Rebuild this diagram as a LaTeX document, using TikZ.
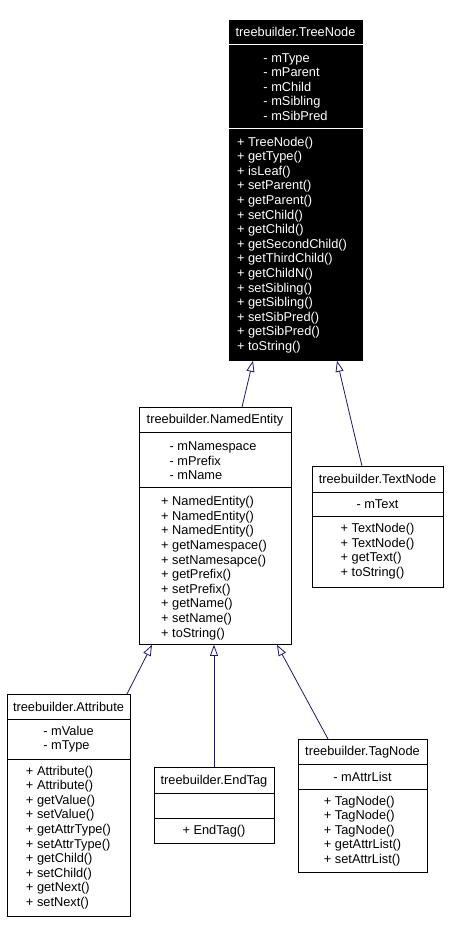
\documentclass[tikz,border=0pt]{standalone}
\usepackage{fontspec}
\setmainfont{Liberation Sans}
\usetikzlibrary{arrows.meta,calc}
\definecolor{edgeblue}{RGB}{25,25,112}
\tikzset{
  classbox/.style={draw=black, line width=0.8pt, rectangle, inner sep=0pt, anchor=north west},
  seprule/.style={line width=0.8pt},
  umltext/.style={font=\fontsize{12.8}{14.6}\selectfont, inner sep=0pt, align=left},
  inh/.style={draw=edgeblue, line width=0.8pt, -{Triangle[open, length=11pt, width=8pt]}},
}
\begin{document}
\begin{tikzpicture}[x=1pt,y=-1pt]
\useasboundingbox (0,0) rectangle (450,934);
\fill[white] (0,0) rectangle (450,934);

% TreeNode
\node[classbox, fill=black, minimum width=133pt, minimum height=340pt] (tn) at (229,20) {};
\draw[seprule, white] ($(tn.north west)+(0,24)$) -- ($(tn.north east)+(0,24)$);
\draw[seprule, white] ($(tn.north west)+(0,108)$) -- ($(tn.north east)+(0,108)$);
\node[umltext, text=white] (tnT) at (295.5,32) {treebuilder.TreeNode};
\node[umltext, text=white] (tnA) at (295.5,87) {- mType\\- mParent\\- mChild\\- mSibling\\- mSibPred};
\node[umltext, text=white] (tnM) at (292,245) {+ TreeNode()\\+ getType()\\+ isLeaf()\\+ setParent()\\+ getParent()\\+ setChild()\\+ getChild()\\+ getSecondChild()\\+ getThirdChild()\\+ getChildN()\\+ setSibling()\\+ getSibling()\\+ setSibPred()\\+ getSibPred()\\+ toString()};

% NamedEntity
\node[classbox, minimum width=152pt, minimum height=237pt] (ne) at (139,407) {};
\draw[seprule] ($(ne.north west)+(0,25)$) -- ($(ne.north east)+(0,25)$);
\draw[seprule] ($(ne.north west)+(0,80)$) -- ($(ne.north east)+(0,80)$);
\node[umltext] (neT) at (215,420) {treebuilder.NamedEntity};
\node[umltext] (neA) at (213,461) {- mNamespace\\- mPrefix\\- mName};
\node[umltext] (neM) at (214,568) {+ NamedEntity()\\+ NamedEntity()\\+ NamedEntity()\\+ getNamespace()\\+ setNamesapce()\\+ getPrefix()\\+ setPrefix()\\+ getName()\\+ setName()\\+ toString()};

% TextNode
\node[classbox, minimum width=131pt, minimum height=121pt] (txn) at (312,466) {};
\draw[seprule] ($(txn.north west)+(0,26)$) -- ($(txn.north east)+(0,26)$);
\draw[seprule] ($(txn.north west)+(0,50)$) -- ($(txn.north east)+(0,50)$);
\node[umltext] (txnT) at (377.5,479) {treebuilder.TextNode};
\node[umltext] (txnA) at (377.5,504) {- mText};
\node[umltext] (txnM) at (377.5,551) {+ TextNode()\\+ TextNode()\\+ getText()\\+ toString()};

% Attribute
\node[classbox, minimum width=123pt, minimum height=222pt] (at) at (7,694) {};
\draw[seprule] ($(at.north west)+(0,25)$) -- ($(at.north east)+(0,25)$);
\draw[seprule] ($(at.north west)+(0,65)$) -- ($(at.north east)+(0,65)$);
\node[umltext] (atT) at (68.5,707) {treebuilder.Attribute};
\node[umltext] (atA) at (68.5,739) {- mValue\\- mType};
\node[umltext] (atM) at (68.5,837.5) {+ Attribute()\\+ Attribute()\\+ getValue()\\+ setValue()\\+ getAttrType()\\+ setAttrType()\\+ getChild()\\+ setChild()\\+ getNext()\\+ setNext()};

% EndTag
\node[classbox, minimum width=120pt, minimum height=76pt] (et) at (154,767) {};
\draw[seprule] ($(et.north west)+(0,26)$) -- ($(et.north east)+(0,26)$);
\draw[seprule] ($(et.north west)+(0,51)$) -- ($(et.north east)+(0,51)$);
\node[umltext] (etT) at (214,781) {treebuilder.EndTag};
\node[umltext] (etM) at (214,831) {+ EndTag()};

% TagNode
\node[classbox, minimum width=129pt, minimum height=133pt] (tg) at (298,739) {};
\draw[seprule] ($(tg.north west)+(0,25)$) -- ($(tg.north east)+(0,25)$);
\draw[seprule] ($(tg.north west)+(0,50)$) -- ($(tg.north east)+(0,50)$);
\node[umltext] (tgT) at (362.5,752) {treebuilder.TagNode};
\node[umltext] (tgA) at (362.5,777) {- mAttrList};
\node[umltext] (tgM) at (362.5,831) {+ TagNode()\\+ TagNode()\\+ TagNode()\\+ getAttrList()\\+ setAttrList()};

% Inheritance connectors
\draw[inh] ($(ne.north west)+(103,0)$) -- ($(tn.south west)+(24,0)$);
\draw[inh] ($(txn.north west)+(50,0)$) .. controls (352,425) and (344,390) .. ($(tn.south west)+(108,0)$);
\draw[inh] ($(at.north west)+(120,0)$) -- ($(ne.south west)+(13,0)$);
\draw[inh] ($(et.north west)+(60,0)$) -- ($(ne.south west)+(75,0)$);
\draw[inh] ($(tg.north west)+(30,0)$) -- ($(ne.south west)+(138,0)$);
\end{tikzpicture}
\end{document}
